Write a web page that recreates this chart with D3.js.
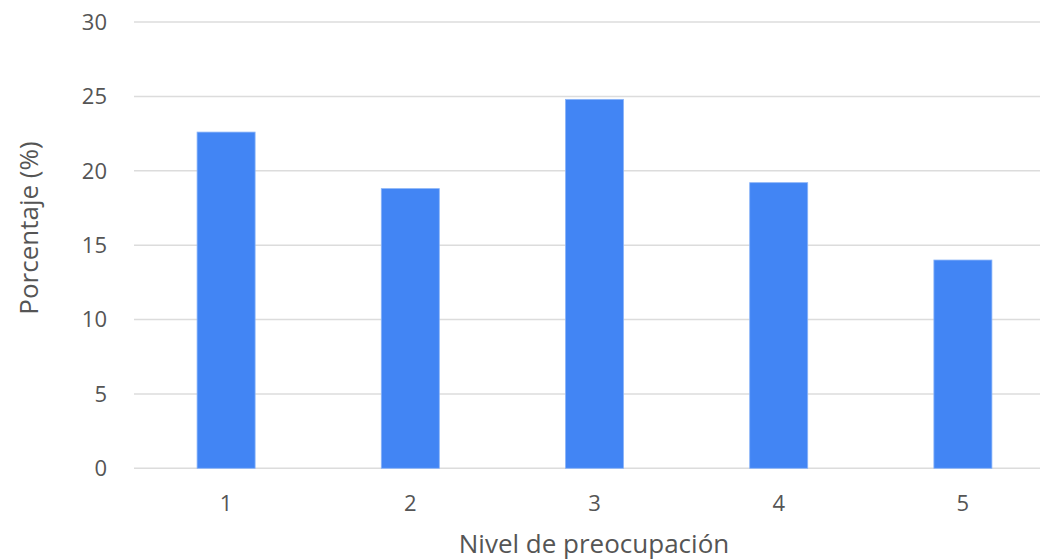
<!DOCTYPE html>
<html><head><meta charset="utf-8">
<script src="https://cdn.jsdelivr.net/npm/d3@7"></script>
<style>body{margin:0;background:#fff}svg{display:block;font-family:"Open Sans",sans-serif}</style>
</head><body>
<svg id="c" width="1040" height="560"></svg>
<script>
const categories = ["1","2","3","4","5"];
const values = [22.6, 18.8, 24.8, 19.2, 14.0];
const yTicks = [0,5,10,15,20,25,30];

const svg = d3.select("#c");
const x = d3.scaleBand().domain(categories).range([134, 1055]).paddingInner(0.685).paddingOuter(0.3425);
const y = d3.scaleLinear().domain([0,30]).range([468.3, 22]);

svg.append("g").selectAll("line").data(yTicks).join("line")
  .attr("x1",134).attr("x2",1040)
  .attr("y1",d=>y(d)).attr("y2",d=>y(d))
  .attr("stroke","#dcdcdc").attr("stroke-width",1.5);

svg.append("g").selectAll("text").data(yTicks).join("text")
  .attr("x",107).attr("y",d=>y(d)).attr("dy","0.36em")
  .attr("text-anchor","end").attr("font-size",22).attr("fill","#555")
  .text(d=>d);

svg.append("g").selectAll("rect").data(values).join("rect")
  .attr("x",(d,i)=>x(categories[i])).attr("width",x.bandwidth())
  .attr("y",d=>y(d)).attr("height",d=>y(0)-y(d))
  .attr("fill","#4285f4").attr("stroke","#8ab4f8").attr("stroke-width",0.8);

svg.append("g").selectAll("text").data(categories).join("text")
  .attr("x",d=>x(d)+x.bandwidth()/2).attr("y",503).attr("dy","0.36em")
  .attr("text-anchor","middle").attr("font-size",22).attr("fill","#555")
  .text(d=>d);

svg.append("text").attr("x",594).attr("y",553)
  .attr("text-anchor","middle").attr("font-size",26).attr("fill","#555")
  .text("Nivel de preocupación");

svg.append("text").attr("transform","translate(38,228) rotate(-90)")
  .attr("text-anchor","middle").attr("font-size",26).attr("fill","#555")
  .text("Porcentaje (%)");
</script>
</body></html>
